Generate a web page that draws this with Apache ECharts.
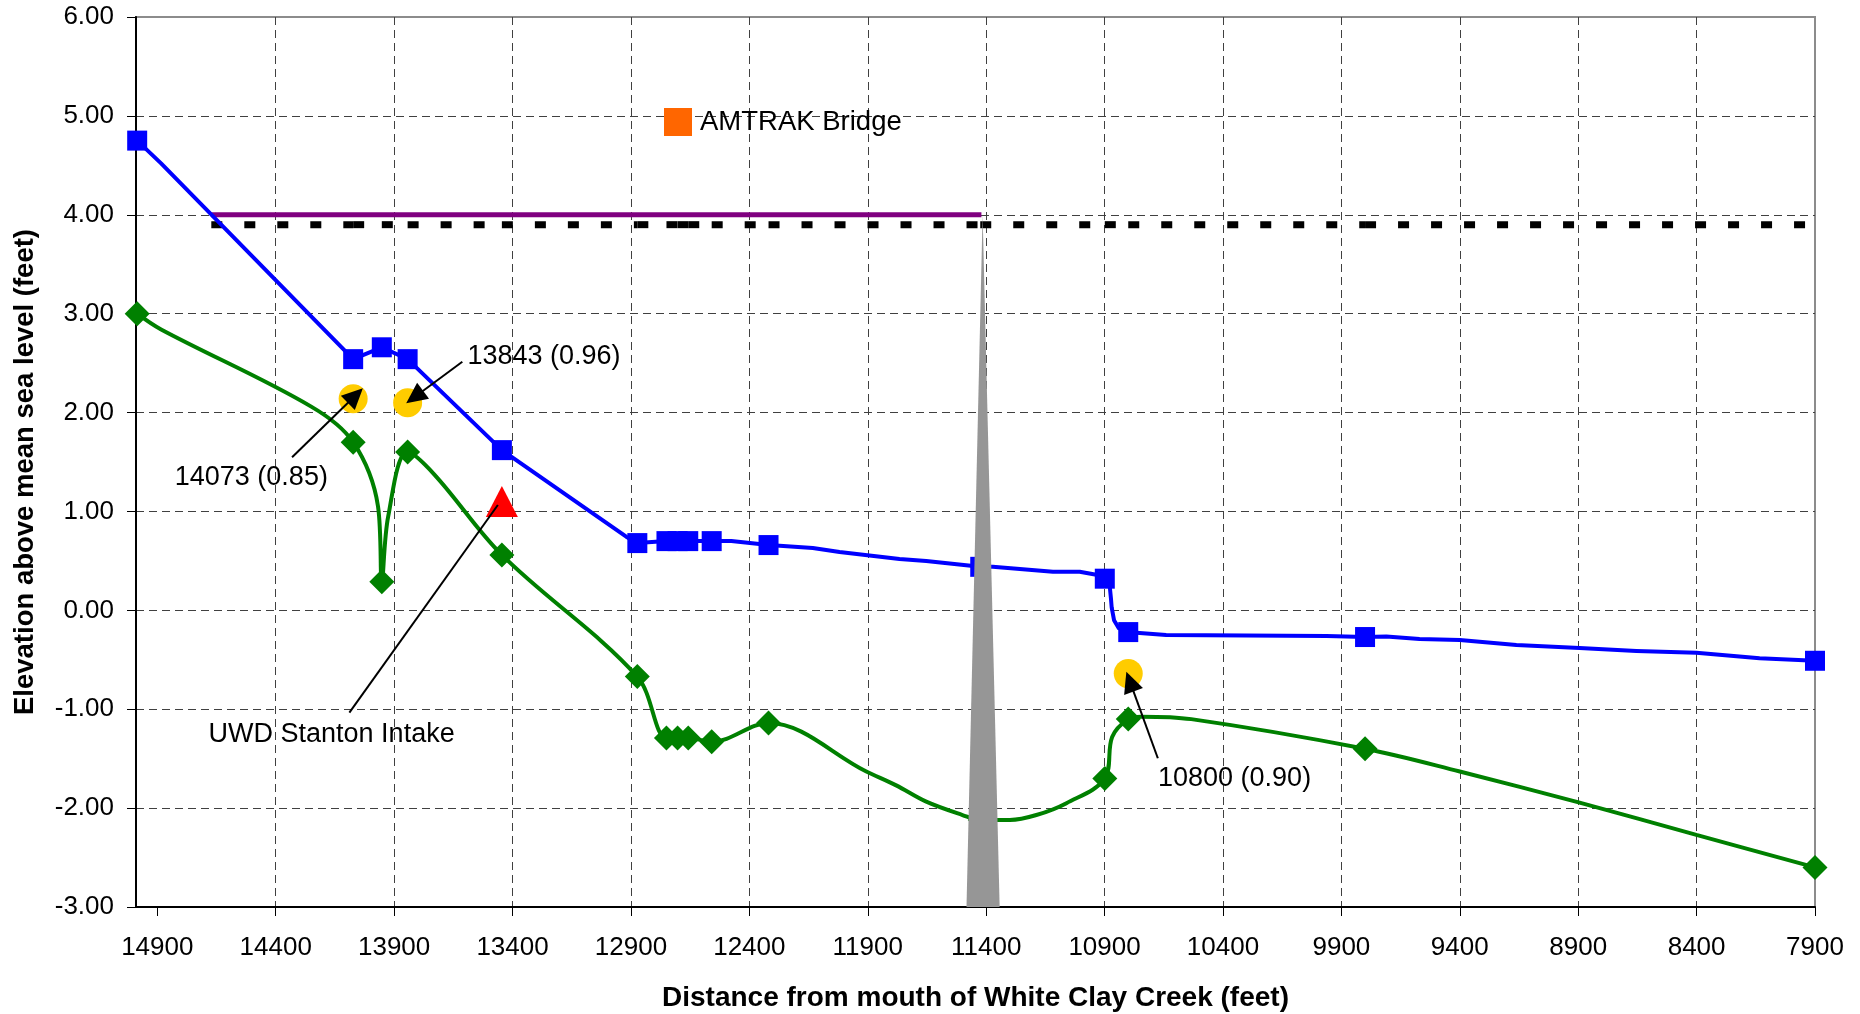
<!DOCTYPE html>
<html>
<head>
<meta charset="utf-8">
<script src="https://cdn.jsdelivr.net/npm/echarts@6/dist/echarts.min.js"></script>
<style>
  html, body { margin: 0; padding: 0; background: #ffffff; }
  #chart { width: 1860px; height: 1014px; }
</style>
</head>
<body>
<div id="chart"></div>
<script>
// Surveyed cross-section stations (feet upstream of the creek mouth)
const stations     = [14985, 14073, 13952, 13843, 13445, 12873, 12750, 12703, 12658, 12559, 12319, 11425, 10899, 10800, 9800, 7900];
// Water surface elevation at each station (ft above MSL)
const waterSurface = [4.75, 2.54, 2.66, 2.54, 1.62, 0.68, 0.70, 0.70, 0.70, 0.70, 0.66, 0.44, 0.32, -0.22, -0.27, -0.51];
// Channel bed elevation at each station (ft above MSL)
const channelBed   = [3.00, 1.70, 0.29, 1.60, 0.56, -0.67, -1.29, -1.29, -1.29, -1.33, -1.14, -2.12, -1.70, -1.10, -1.40, -2.60];

// Additional profile points between surveyed stations [distance, elevation]
const waterSurfaceBetween = [
  [14884, 4.52], [12920, 0.745], [12476, 0.70], [12132, 0.63], [12019, 0.59],
  [11766, 0.52], [11653, 0.50], [11372, 0.44], [11118, 0.39], [11005, 0.39],
  [10935, 0.36], [10878, 0.24], [10873, 0.12], [10870, 0.03], [10860, -0.10],
  [10840, -0.18], [10752, -0.23], [10640, -0.25], [9963, -0.26],
  [9710, -0.265], [9570, -0.29], [9400, -0.30], [9161, -0.35], [8894, -0.38],
  [8654, -0.41], [8401, -0.43], [8134, -0.485]
];
const channelBedBetween = [
  [14884, 2.84], [14250, 2.06], [13968, 1.05], [13925, 0.95], [13729, 1.37],
  [11906, -1.63], [11780, -1.77], [11653, -1.935], [11500, -2.07], [11300, -2.12],
  [11188, -2.07], [11061, -1.95], [10868, -1.28], [10745, -1.075], [10534, -1.10],
  [9400, -1.63], [8894, -1.945], [8401, -2.27]
];

// Point readings
const readingStations = [14073, 13843, 10800];
const readingElev     = [2.14, 2.10, -0.64];

// UWD Stanton intake
const intakeStation = 13445;
const intakeElev    = 1.10;

// Reference levels
const upperLevel     = 4.00;
const upperLevelFrom = 14672;
const upperLevelTo   = 11420;
const lowerLevel     = 3.90;
const lowerLevelFrom = 14672;

// AMTRAK bridge pier outline [distance, elevation]
const bridgePier = [[11415, 4.00], [11483, -3.00], [11343, -3.00]];

// Annotations: text, text centre, and leader line [from, to]
const noteTexts   = ['14073 (0.85)', '13843 (0.96)', '10800 (0.90)', 'UWD Stanton Intake'];
const noteAnchors = [[14503, 1.343], [13267, 2.562], [10351, -1.699], [14164, -1.261]];
const noteLeaders = [
  [[14331, 1.548], [14032, 2.246]],
  [[13612, 2.514], [13849, 2.094]],
  [[10675, -1.496], [10808, -0.621]],
  [[14089, -1.035], [13462, 1.065]]
];
const noteHasArrow = [true, true, true, false];

// Axis ticks
const xTicks = [14900, 14400, 13900, 13400, 12900, 12400, 11900, 11400, 10900, 10400, 9900, 9400, 8900, 8400, 7900];
const xMin = 7900, xMax = 14990;
const yMin = -3, yMax = 6, yStep = 1;

const FONT = '"Liberation Sans", Arial, Helvetica, sans-serif';

function profile(elev, between, symbol) {
  const pts = stations.map((x, i) => ({ value: [x, elev[i]], symbol: symbol }))
    .concat(between.map(p => ({ value: [p[0], p[1]], symbol: 'none' })));
  pts.sort((a, b) => b.value[0] - a.value[0]);
  return pts;
}

// Dashed reference line broken into station-to-station pieces
const lowerXs = [lowerLevelFrom].concat(stations.filter(s => s < lowerLevelFrom));
const lowerSegments = [];
for (let i = 0; i < lowerXs.length - 1; i++) {
  lowerSegments.push([lowerXs[i], lowerXs[i + 1], lowerLevel]);
}

const chart = echarts.init(document.getElementById('chart'), null, { renderer: 'canvas' });

const option = {
  animation: false,
  backgroundColor: '#ffffff',
  textStyle: { fontFamily: FONT },
  grid: {
    left: 136, right: 45, top: 17, bottom: 107,
    show: true, borderColor: '#8c8c8c', borderWidth: 2, backgroundColor: '#ffffff',
    containLabel: false, outerBoundsMode: 'none'
  },
  legend: {
    data: [{ name: 'AMTRAK Bridge', icon: 'rect', itemStyle: { color: '#FF6600' } }],
    left: 659, top: 103,
    itemWidth: 28, itemHeight: 28,
    selectedMode: false,
    textStyle: { fontSize: 27.5, color: '#000000', fontFamily: FONT, padding: [0, 0, 0, 3] }
  },
  xAxis: {
    type: 'value', inverse: true, min: xMin, max: xMax,
    name: 'Distance from mouth of White Clay Creek (feet)',
    nameLocation: 'middle', nameGap: 77,
    nameTextStyle: { fontSize: 28, fontWeight: 'bold', color: '#000000', fontFamily: FONT },
    axisLine: { show: true, onZero: false, lineStyle: { color: '#000000', width: 2 } },
    axisTick: { show: true, inside: false, length: 9, customValues: xTicks, lineStyle: { color: '#000000', width: 1 } },
    axisLabel: { show: true, customValues: xTicks, margin: 28, fontSize: 26, color: '#000000', fontFamily: FONT, formatter: v => String(v) },
    splitLine: { show: true, showMinLine: false, showMaxLine: false, lineStyle: { color: '#404040', width: 1, type: [8, 5] } }
  },
  yAxis: {
    type: 'value', min: yMin, max: yMax, interval: yStep,
    name: 'Elevation above mean sea level (feet)',
    nameLocation: 'middle', nameGap: 97, nameRotate: 90,
    nameTextStyle: { fontSize: 27.5, fontWeight: 'bold', color: '#000000', fontFamily: FONT, padding: [0, 20, 0, 0] },
    axisLine: { show: true, onZero: false, lineStyle: { color: '#000000', width: 2 } },
    axisTick: { show: true, inside: false, length: 9, lineStyle: { color: '#000000', width: 1 } },
    axisLabel: { show: true, margin: 22, fontSize: 26, color: '#000000', fontFamily: FONT, formatter: v => v.toFixed(2) },
    splitLine: { show: true, showMinLine: false, showMaxLine: false, lineStyle: { color: '#404040', width: 1, type: [8, 5] } }
  },
  series: [
    {
      name: 'lower level', type: 'custom', z: 2, silent: true,
      data: lowerSegments,
      encode: { x: [0, 1], y: 2 },
      renderItem: function (params, api) {
        const p1 = api.coord([api.value(0), api.value(2)]);
        const p2 = api.coord([api.value(1), api.value(2)]);
        return {
          type: 'line',
          shape: { x1: p1[0], y1: p1[1], x2: p2[0], y2: p2[1] },
          style: { stroke: '#000000', lineWidth: 7, lineDash: [11, 22], lineCap: 'butt' }
        };
      }
    },
    {
      name: 'upper level', type: 'line', z: 3, silent: true,
      data: [[upperLevelFrom, upperLevel], [upperLevelTo, upperLevel]],
      symbol: 'none',
      lineStyle: { color: '#800080', width: 5 }
    },
    {
      name: 'Channel bed', type: 'line', z: 4, silent: true,
      data: profile(channelBed, channelBedBetween, 'diamond'),
      smooth: 0.35, showAllSymbol: true,
      symbolSize: 25,
      itemStyle: { color: '#008000', opacity: 1 },
      lineStyle: { color: '#008000', width: 4 }
    },
    {
      name: 'Water surface', type: 'line', z: 5, silent: true,
      data: profile(waterSurface, waterSurfaceBetween, 'rect'),
      smooth: false, showAllSymbol: true,
      symbolSize: 20,
      itemStyle: { color: '#0000FF', opacity: 1 },
      lineStyle: { color: '#0000FF', width: 4, join: 'round' }
    },
    {
      name: 'readings', type: 'scatter', z: 6, silent: true,
      data: readingStations.map((x, i) => [x, readingElev[i]]),
      symbol: 'circle', symbolSize: 29,
      itemStyle: { color: '#FFCC00', opacity: 1 }
    },
    {
      name: 'UWD Stanton Intake', type: 'scatter', z: 7, silent: true,
      data: [[intakeStation, intakeElev]],
      symbol: 'triangle', symbolSize: [32, 31],
      itemStyle: { color: '#FF0000', opacity: 1 }
    },
    {
      name: 'AMTRAK Bridge', type: 'custom', z: 8, silent: true,
      data: [bridgePier[0]],
      encode: { x: 0, y: 1 },
      renderItem: function (params, api) {
        const pts = bridgePier.map(p => api.coord(p));
        return { type: 'polygon', shape: { points: pts }, style: { fill: '#969696' } };
      }
    }
  ]
};

chart.setOption(option);

// Annotation texts and leader lines, placed through the chart's own axes
const toPx = p => chart.convertToPixel({ xAxisIndex: 0, yAxisIndex: 0 }, p);
const HEAD_LEN = 21, HEAD_HALF = 10;
const graphics = [];
noteTexts.forEach((text, i) => {
  const c = toPx(noteAnchors[i]);
  graphics.push({
    type: 'text', x: c[0], y: c[1], z: 100, silent: true,
    style: { text: text, fill: '#000000', font: '27px ' + FONT, align: 'center', verticalAlign: 'middle' }
  });
});
noteLeaders.forEach((seg, i) => {
  const s = toPx(seg[0]);
  const t = toPx(seg[1]);
  let end = t;
  if (noteHasArrow[i]) {
    const dx = t[0] - s[0], dy = t[1] - s[1];
    const len = Math.hypot(dx, dy);
    const ux = dx / len, uy = dy / len;
    const bx = t[0] - ux * HEAD_LEN, by = t[1] - uy * HEAD_LEN;
    end = [bx + ux * 2, by + uy * 2];
    graphics.push({
      type: 'polygon', z: 101, silent: true,
      shape: { points: [[t[0], t[1]], [bx - uy * HEAD_HALF, by + ux * HEAD_HALF], [bx + uy * HEAD_HALF, by - ux * HEAD_HALF]] },
      style: { fill: '#000000' }
    });
  }
  graphics.push({
    type: 'line', z: 100, silent: true,
    shape: { x1: s[0], y1: s[1], x2: end[0], y2: end[1] },
    style: { stroke: '#000000', lineWidth: 2 }
  });
});
chart.setOption({ graphic: graphics });
</script>
</body>
</html>
